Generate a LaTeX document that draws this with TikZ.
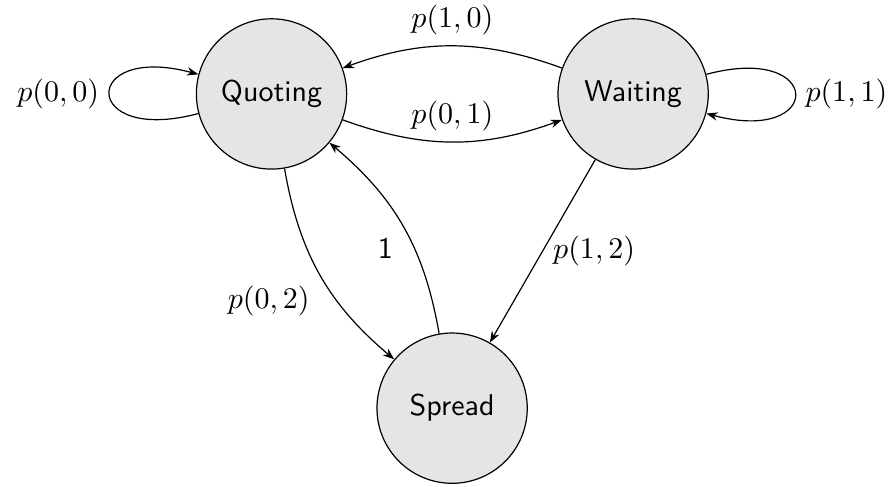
\documentclass[tikz,border=0pt]{standalone}
\usetikzlibrary{arrows.meta}
\tikzset{
  kstate/.style={draw, circle, fill=black!10, minimum size=1.76cm, font=\sffamily},
  flow/.style={->},
  >={Stealth[length=3.8pt, width=2.8pt]},
}
\begin{document}
\begin{tikzpicture}[font=\sffamily]
    \useasboundingbox (-3.18,1.10) rectangle (7.29,-4.60);
    \node[kstate] (quoting) at (0.00,0.00) {Quoting};
    \node[kstate] (waiting) at (4.235,0.00) {Waiting};
    \node[kstate] (spread) at (2.115,-3.68) {Spread};
    \draw[flow] (quoting) to[loop left] node[left]{$p(0,0)$} (quoting);
    \draw[flow] (waiting) to[loop right] node[right]{$p(1,1)$} (waiting);
    \draw[flow] (quoting) to[bend right=20] node[midway, above]{$p(0,1)$} (waiting);
    \draw[flow] (waiting) to[bend right=20] node[midway, above]{$p(1,0)$} (quoting);
    \draw[flow] (quoting) to[bend right=20] node[midway, below left]{$p(0,2)$} (spread);
    \draw[flow] (spread) to[bend right=20] node[midway, below left]{1} (quoting);
    \draw[flow] (waiting) -- (spread) node[midway, right]{$p(1,2)$};
  \end{tikzpicture}
\end{document}
